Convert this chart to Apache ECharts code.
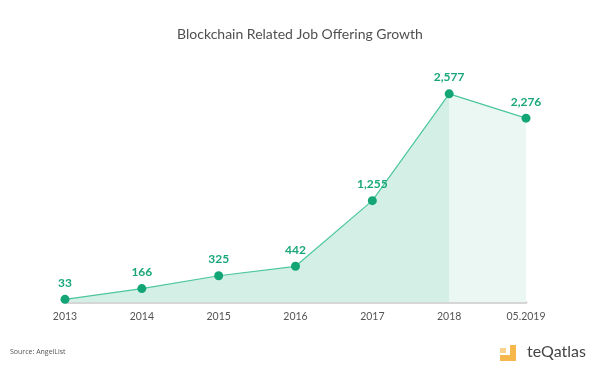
<!DOCTYPE html>
<html>
<head>
<meta charset="utf-8">
<script src="https://cdn.jsdelivr.net/npm/echarts@6/dist/echarts.min.js"></script>
<style>html,body{margin:0;padding:0;background:#fff}#c{width:600px;height:366px}</style>
</head>
<body>
<div id="c"></div>
<script>
const categories = ['2013', '2014', '2015', '2016', '2017', '2018', '05.2019'];
const jobOffers = [33, 166, 325, 442, 1255, 2577, 2276];
const titleText = 'Blockchain Related Job Offering Growth';
const sourceText = 'Source: AngelList';

const chart = echarts.init(document.getElementById('c'), null, {renderer: 'canvas'});
chart.setOption({
  backgroundColor: '#ffffff',
  animation: false,
  title: {
    text: titleText,
    left: 'center',
    top: 22,
    textStyle: {color: '#505050', fontSize: 14, fontWeight: 'normal', fontFamily: 'Lato'}
  },
  grid: {left: 65, right: 74, top: 92, bottom: 64, containLabel: false},
  xAxis: {
    type: 'category',
    data: categories,
    boundaryGap: false,
    axisLine: {show: true, lineStyle: {color: '#d6d6d6', width: 3}},
    axisTick: {show: false},
    axisLabel: {color: '#555555', fontSize: 10.5, margin: 9, fontFamily: 'Lato'},
    splitLine: {show: false}
  },
  yAxis: {
    type: 'value',
    min: 0,
    max: 2600,
    show: false
  },
  series: [{
    type: 'line',
    data: jobOffers,
    symbol: 'circle',
    symbolSize: 9,
    itemStyle: {color: '#13a576'},
    lineStyle: {color: '#4cc79c', width: 1.2},
    areaStyle: {
      color: new echarts.graphic.LinearGradient(0, 0, 1, 0, [
        {offset: 0, color: '#d3efe6'},
        {offset: 5/6, color: '#d3efe6'},
        {offset: 5/6, color: '#eaf7f3'},
        {offset: 1, color: '#eaf7f3'}
      ]),
      opacity: 1
    },
    label: {
      show: true,
      position: 'top',
      distance: 6,
      color: '#1aa67a',
      fontSize: 12,
      fontWeight: 'bold',
      fontFamily: 'Lato',
      formatter: p => p.value.toLocaleString('en-US')
    }
  }],
  graphic: [
    {type: 'text', left: 10, top: 348, style: {text: sourceText, fill: '#555555', fontSize: 7, fontFamily: 'Open Sans'}},
    {type: 'rect', shape: {x: 510, y: 345, width: 6, height: 16}, style: {fill: '#f7b84b'}},
    {type: 'rect', shape: {x: 500, y: 355, width: 16, height: 6}, style: {fill: '#f7b84b'}},
    {type: 'rect', shape: {x: 500, y: 348, width: 6, height: 5}, style: {fill: '#fbd28a'}},
    {type: 'text', left: 527, top: 344, style: {text: 'teQatlas', fill: '#444444', fontSize: 16, fontFamily: 'Lato'}}
  ]
});
</script>
</body>
</html>
